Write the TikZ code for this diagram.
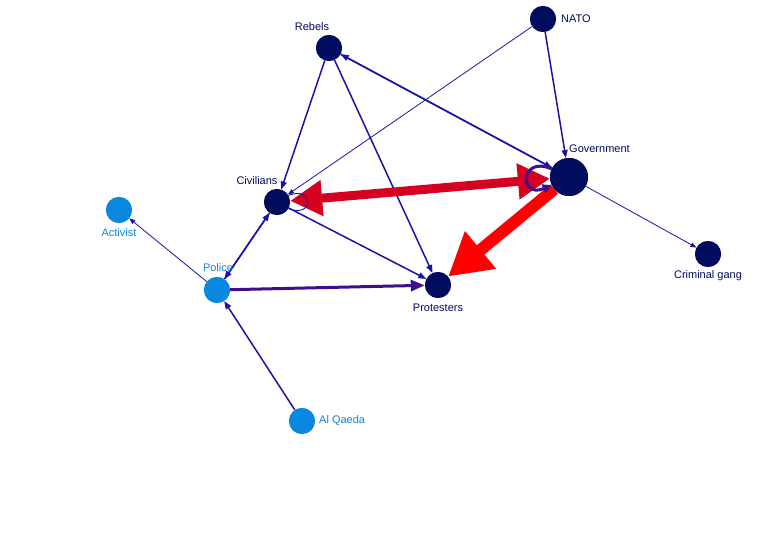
\documentclass[tikz,border=0pt]{standalone}
\usepackage{fontspec}
\setmainfont{Liberation Sans}
\usetikzlibrary{arrows.meta}
\definecolor{navy}{HTML}{000C5E}
\definecolor{lblue}{HTML}{0A88E0}
\definecolor{eblue}{HTML}{1A14A6}
\definecolor{epurple}{HTML}{3D0F8F}
\definecolor{redA}{HTML}{D60020}
\definecolor{redB}{HTML}{FF0000}
\tikzset{
  dnode/.style={circle,fill=navy,draw=none,minimum size=26pt,inner sep=0pt},
  lnode/.style={circle,fill=lblue,draw=none,minimum size=26pt,inner sep=0pt},
  dlab/.style={text=navy,font=\fontsize{11}{12}\selectfont,inner sep=0pt},
  llab/.style={text=lblue,font=\fontsize{11}{12}\selectfont,inner sep=0pt},
  edge/.style={draw=eblue,line width=1.5pt,-{Triangle[length=8pt,width=6pt]}},
  thinedge/.style={draw=eblue,line width=0.8pt,-{Triangle[length=6pt,width=4.5pt]}},
}
\begin{document}
\begin{tikzpicture}[x=1pt,y=-1pt]
\useasboundingbox (0,0) rectangle (782,540);
\fill[white] (0,0) rectangle (782,540);
% nodes (positions)
\node[dnode] (reb) at (329,48) {};
\node[dnode] (nato) at (543,19) {};
\node[dnode,minimum size=38pt] (gov) at (569,177) {};
\node[dnode] (civ) at (277,202) {};
\node[lnode] (act) at (119,210) {};
\node[lnode] (pol) at (217,290) {};
\node[dnode] (pro) at (438,285) {};
\node[dnode] (gang) at (708,254) {};
\node[lnode] (aq) at (302,421) {};
% edges
\draw[edge] (reb) -- (civ);
\draw[edge] (reb) -- (pro);
\draw[edge] (gov) -- (reb);
\draw[edge] (reb) -- (gov);
\draw[edge] (nato) -- (gov);
\draw[thinedge] (nato) -- (civ);
\draw[edge] (civ) -- (pro);
\draw[edge] (pol) -- (civ);
\draw[edge] (civ) -- (pol);
\draw[draw=epurple,line width=3pt,-{Triangle[length=14pt,width=11pt]}] (pol) -- (pro);
\draw[thinedge] (pol) -- (act);
\draw[edge] (aq) -- (pol);
\draw[thinedge] (gov) -- (gang);
% red arrows
\draw[draw=redA,line width=9pt,{Triangle[length=32pt,width=34pt]}-{Triangle[length=32pt,width=34pt]}] (civ) -- (gov);
\draw[draw=redB,line width=12pt,-{Triangle[length=42pt,width=46pt]}] (gov) -- (pro);
% self loops
\draw[draw=eblue,line width=0.9pt] (civ.30) .. controls +(26,-10) and +(26,10) .. (civ.-30);
\draw[draw=epurple,line width=3pt,-{Triangle[length=9pt,width=9pt]}] (gov.155) .. controls +(-32,-14) and +(-32,14) .. (gov.205);
% redraw nodes on top
\node[dnode] at (reb) {};
\node[dnode] at (nato) {};
\node[dnode,minimum size=38pt] at (gov) {};
\node[dnode] at (civ) {};
\node[lnode] at (act) {};
\node[lnode] at (pol) {};
\node[dnode] at (pro) {};
\node[dnode] at (gang) {};
\node[lnode] at (aq) {};
% labels
\node[dlab] (lreb) at (312,27) {Rebels};
\node[dlab,anchor=west] (lnato) at (561,19) {NATO};
\node[dlab,anchor=west] (lgov) at (569,149) {Government};
\node[dlab] (lciv) at (257,181) {Civilians};
\node[llab] (lact) at (119,233) {Activist};
\node[llab] (lpol) at (218,268) {Police};
\node[dlab] (lpro) at (438,308) {Protesters};
\node[dlab] (lgang) at (708,276) {Criminal gang};
\node[llab,anchor=west] (laq) at (319,421) {Al Qaeda};
\end{tikzpicture}
\end{document}
